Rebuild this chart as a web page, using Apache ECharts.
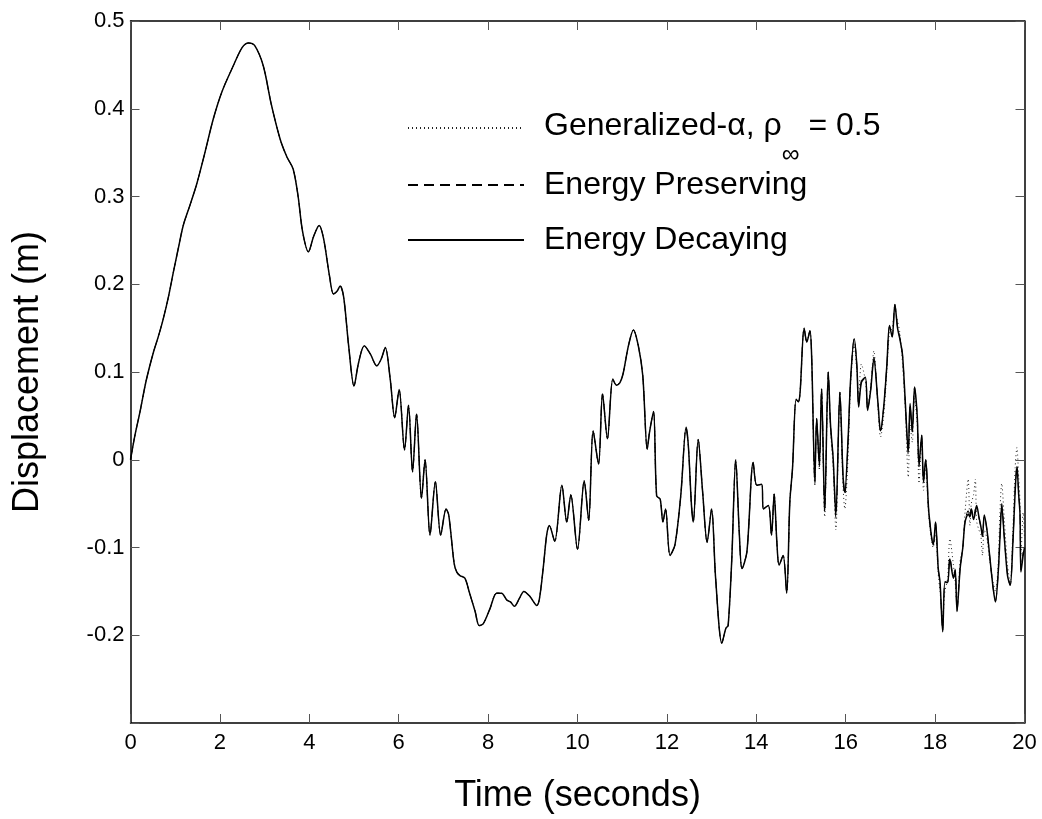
<!DOCTYPE html>
<html>
<head>
<meta charset="utf-8">
<script src="https://cdn.jsdelivr.net/npm/echarts@6/dist/echarts.min.js"></script>
<style>
html,body{margin:0;padding:0;background:#fff;}
#chart{width:1042px;height:819px;}
</style>
</head>
<body>
<div id="chart"></div>
<script>
// ---- data ----
var timeSec = [
0.00,0.10,0.21,0.35,0.51,0.62,0.73,0.85,0.96,1.07,1.18,1.33,1.48,1.65,1.85,2.05,2.30,2.50,2.64,2.78,
2.97,3.15,3.35,3.50,3.64,3.75,3.85,3.98,4.10,4.22,4.32,4.45,4.54,4.62,4.69,4.77,4.88,5.00,5.10,5.23,
5.37,5.51,5.61,5.70,5.81,5.91,6.01,6.13,6.22,6.31,6.40,6.51,6.59,6.70,6.82,6.94,7.06,7.12,7.24,7.30,
7.37,7.48,7.58,7.71,7.80,7.89,8.04,8.19,8.30,8.42,8.50,8.59,8.70,8.80,8.94,9.09,9.15,9.24,9.31,9.37,
9.49,9.65,9.76,9.85,10.00,10.15,10.25,10.35,10.47,10.56,10.67,10.79,10.87,10.95,11.02,11.14,11.25,11.36,11.46,11.56,
11.61,11.70,11.77,11.85,11.91,11.97,12.07,12.18,12.31,12.43,12.48,12.55,12.59,12.70,12.80,12.90,13.00,13.09,13.23,13.32,
13.37,13.45,13.54,13.62,13.68,13.79,13.93,14.01,14.12,14.16,14.27,14.34,14.40,14.46,14.51,14.60,14.68,14.75,14.81,14.89,
14.94,14.98,15.07,15.13,15.20,15.24,15.31,15.35,15.41,15.46,15.53,15.61,15.66,15.72,15.78,15.87,15.94,15.98,16.05,16.11,
16.19,16.25,16.29,16.35,16.44,16.49,16.56,16.63,16.72,16.78,16.85,16.92,16.98,17.04,17.10,17.16,17.21,17.27,17.33,17.40,
17.44,17.49,17.54,17.60,17.64,17.70,17.74,17.79,17.86,17.96,18.01,18.07,18.11,18.17,18.22,18.28,18.33,18.41,18.45,18.49,
18.56,18.62,18.67,18.74,18.78,18.81,18.86,18.90,18.93,18.98,19.02,19.06,19.10,19.16,19.22,19.30,19.35,19.41,19.45,19.49,
19.55,19.62,19.68,19.74,19.79,19.83,19.87,19.90,19.92,19.97,20.00
];

var energyDecaying = [
0.000,0.028,0.054,0.090,0.122,0.140,0.160,0.186,0.214,0.241,0.267,0.290,0.314,0.347,0.388,0.420,0.449,0.470,0.475,0.472,
0.449,0.405,0.365,0.345,0.331,0.300,0.260,0.237,0.255,0.267,0.252,0.210,0.189,0.192,0.198,0.185,0.130,0.084,0.110,0.130,
0.120,0.107,0.115,0.128,0.092,0.048,0.080,0.011,0.062,-0.014,0.052,-0.044,0.000,-0.086,-0.025,-0.086,-0.056,-0.063,-0.118,-0.128,
-0.132,-0.135,-0.151,-0.173,-0.189,-0.187,-0.170,-0.152,-0.152,-0.160,-0.162,-0.167,-0.158,-0.150,-0.156,-0.166,-0.158,-0.120,-0.086,-0.075,
-0.093,-0.029,-0.071,-0.040,-0.102,-0.024,-0.069,0.033,-0.005,0.075,0.024,0.092,0.085,0.088,0.098,0.130,0.148,0.130,0.096,0.012,
0.031,0.055,-0.041,-0.045,-0.071,-0.056,-0.109,-0.097,-0.041,0.037,0.016,-0.052,-0.071,0.023,-0.037,-0.094,-0.056,-0.135,-0.209,-0.192,
-0.189,-0.115,0.000,-0.084,-0.124,-0.105,-0.003,-0.029,-0.028,-0.056,-0.052,-0.086,-0.039,-0.094,-0.120,-0.109,-0.152,-0.048,-0.010,0.069,
0.066,0.077,0.150,0.134,0.147,0.115,-0.025,0.047,-0.006,0.081,-0.058,0.100,0.040,0.001,-0.063,0.077,-0.018,-0.037,0.020,0.092,
0.138,0.107,0.060,0.088,0.094,0.056,0.080,0.115,0.066,0.033,0.060,0.107,0.153,0.140,0.177,0.150,0.138,0.120,0.069,0.009,
0.064,0.032,0.083,0.050,-0.006,0.028,-0.025,0.000,-0.060,-0.097,-0.071,-0.124,-0.139,-0.196,-0.139,-0.140,-0.113,-0.135,-0.125,-0.173,
-0.124,-0.100,-0.071,-0.062,-0.065,-0.056,-0.068,-0.060,-0.052,-0.065,-0.075,-0.086,-0.063,-0.080,-0.109,-0.147,-0.162,-0.130,-0.090,-0.052,
-0.090,-0.132,-0.143,-0.095,-0.037,-0.008,-0.040,-0.063,-0.128,-0.109,-0.100
];

var energyPreserving = [
0.000,0.028,0.054,0.090,0.122,0.140,0.160,0.186,0.214,0.241,0.267,0.290,0.314,0.347,0.388,0.420,0.449,0.470,0.475,0.472,
0.449,0.405,0.365,0.345,0.331,0.300,0.260,0.237,0.255,0.267,0.252,0.210,0.189,0.192,0.198,0.185,0.130,0.084,0.110,0.130,
0.120,0.107,0.115,0.128,0.092,0.048,0.080,0.011,0.062,-0.014,0.052,-0.044,0.000,-0.086,-0.025,-0.086,-0.056,-0.063,-0.118,-0.128,
-0.132,-0.135,-0.151,-0.173,-0.189,-0.187,-0.170,-0.152,-0.152,-0.160,-0.162,-0.167,-0.158,-0.150,-0.156,-0.166,-0.158,-0.120,-0.086,-0.075,
-0.093,-0.029,-0.071,-0.040,-0.102,-0.024,-0.069,0.033,-0.005,0.075,0.024,0.092,0.085,0.088,0.098,0.130,0.148,0.130,0.096,0.012,
0.031,0.055,-0.041,-0.045,-0.071,-0.056,-0.109,-0.097,-0.041,0.037,0.016,-0.052,-0.071,0.023,-0.037,-0.094,-0.056,-0.135,-0.209,-0.192,
-0.189,-0.115,0.000,-0.084,-0.124,-0.105,-0.003,-0.029,-0.028,-0.056,-0.052,-0.086,-0.039,-0.094,-0.120,-0.109,-0.152,-0.048,-0.010,0.069,
0.066,0.077,0.150,0.134,0.147,0.115,-0.027,0.047,-0.008,0.081,-0.060,0.100,0.040,0.000,-0.066,0.077,-0.020,-0.040,0.018,0.092,
0.138,0.107,0.062,0.090,0.094,0.057,0.080,0.117,0.066,0.031,0.060,0.107,0.152,0.140,0.177,0.151,0.139,0.120,0.068,0.006,
0.062,0.032,0.082,0.050,-0.008,0.028,-0.026,0.000,-0.060,-0.097,-0.072,-0.124,-0.140,-0.195,-0.140,-0.140,-0.111,-0.134,-0.126,-0.172,
-0.123,-0.100,-0.070,-0.058,-0.066,-0.056,-0.065,-0.056,-0.054,-0.066,-0.076,-0.088,-0.064,-0.080,-0.109,-0.147,-0.161,-0.130,-0.088,-0.050,
-0.089,-0.131,-0.143,-0.094,-0.035,-0.006,-0.038,-0.062,-0.126,-0.105,-0.099
];

var generalizedAlpha = [
0.000,0.028,0.054,0.090,0.122,0.140,0.160,0.186,0.214,0.241,0.267,0.290,0.314,0.347,0.388,0.420,0.449,0.470,0.475,0.472,
0.449,0.405,0.365,0.345,0.331,0.300,0.260,0.237,0.255,0.267,0.252,0.210,0.189,0.192,0.198,0.185,0.130,0.084,0.110,0.130,
0.120,0.107,0.115,0.128,0.092,0.048,0.080,0.011,0.062,-0.014,0.052,-0.044,0.000,-0.086,-0.025,-0.086,-0.056,-0.063,-0.118,-0.128,
-0.132,-0.135,-0.151,-0.173,-0.189,-0.187,-0.170,-0.152,-0.152,-0.160,-0.162,-0.167,-0.158,-0.150,-0.156,-0.166,-0.158,-0.120,-0.086,-0.075,
-0.093,-0.029,-0.071,-0.040,-0.102,-0.024,-0.069,0.033,-0.005,0.075,0.024,0.092,0.085,0.088,0.098,0.130,0.148,0.130,0.096,0.012,
0.031,0.055,-0.041,-0.045,-0.071,-0.056,-0.109,-0.097,-0.041,0.037,0.016,-0.052,-0.071,0.023,-0.037,-0.094,-0.056,-0.135,-0.209,-0.192,
-0.189,-0.115,0.000,-0.084,-0.124,-0.105,-0.003,-0.029,-0.028,-0.056,-0.052,-0.086,-0.039,-0.094,-0.120,-0.109,-0.152,-0.048,-0.010,0.069,
0.066,0.077,0.150,0.134,0.147,0.115,-0.030,0.045,-0.012,0.078,-0.065,0.090,0.035,-0.010,-0.080,0.070,-0.030,-0.056,0.000,0.085,
0.130,0.100,0.075,0.109,0.090,0.060,0.085,0.124,0.060,0.026,0.050,0.100,0.145,0.150,0.172,0.158,0.145,0.110,0.060,-0.020,
0.040,0.020,0.070,0.040,-0.027,0.020,-0.035,-0.010,-0.065,-0.100,-0.085,-0.130,-0.150,-0.180,-0.150,-0.135,-0.090,-0.120,-0.140,-0.165,
-0.115,-0.100,-0.060,-0.022,-0.075,-0.050,-0.040,-0.022,-0.070,-0.080,-0.085,-0.109,-0.080,-0.090,-0.115,-0.140,-0.150,-0.120,-0.060,-0.027,
-0.070,-0.120,-0.140,-0.080,-0.010,0.014,-0.020,-0.050,-0.110,-0.060,-0.090
];

var xTicks = [0, 2, 4, 6, 8, 10, 12, 14, 16, 18, 20];
var yTickLabels = ['0.5', '0.4', '0.3', '0.2', '0.1', '0', '-0.1', '-0.2'];

var seriesNames = ['Generalized-α, ρ∞ = 0.5', 'Energy Preserving', 'Energy Decaying'];

function pairs(vals) {
  return timeSec.map(function (t, i) { return [t, vals[i]]; });
}

var FONT = '"Liberation Sans", Arial, Helvetica, sans-serif';
var chart = echarts.init(document.getElementById('chart'), null, { renderer: 'canvas' });

var axisLineStyle = { color: '#000', width: 1.5 };
var tickStyle = { color: '#555', width: 1 };

function legendRow(name, top) {
  return {
    orient: 'vertical',
    left: 407,
    top: top,
    padding: 0,
    itemWidth: 116,
    itemHeight: 10,
    selectedMode: false,
    data: [name],
    itemStyle: { opacity: 0 },
    textStyle: { fontFamily: FONT, fontSize: 32, color: '#000', lineHeight: 36, padding: [0, 0, 0, 15],
      rich: {
        a: { fontFamily: FONT, fontSize: 32, color: '#000', lineHeight: 36, verticalAlign: 'top' },
        s: { fontFamily: FONT, fontSize: 25, color: '#000', lineHeight: 18, padding: [33, 0, 0, 0], verticalAlign: 'top' }
      }
    },
    formatter: function (n) {
      if (n === seriesNames[0]) {
        return '{a|Generalized-α, ρ}{s|∞}{a| = 0.5}';
      }
      return n;
    }
  };
}

var option = {
  backgroundColor: '#fff',
  animation: false,
  grid: { left: 130.5, right: 17.5, top: 21, bottom: 94.5, containLabel: false },
  legend: [
    legendRow(seriesNames[0], 110),
    legendRow(seriesNames[1], 167),
    legendRow(seriesNames[2], 222)
  ],
  xAxis: [
    {
      type: 'value', min: 0, max: 20, interval: 2,
      name: 'Time (seconds)', nameLocation: 'middle', nameGap: 55,
      nameTextStyle: { fontFamily: FONT, fontSize: 36, color: '#000' },
      axisLine: { show: true, onZero: false, lineStyle: axisLineStyle },
      axisTick: { show: true, inside: true, length: 9, lineStyle: tickStyle },
      axisLabel: { fontFamily: FONT, fontSize: 22, color: '#000', margin: 9,
        formatter: function (v) { return xTicks.indexOf(Math.round(v)) >= 0 ? String(Math.round(v)) : ''; } },
      splitLine: { show: false }
    },
    {
      type: 'value', min: 0, max: 20, interval: 2, position: 'top',
      axisLine: { show: true, onZero: false, lineStyle: axisLineStyle },
      axisTick: { show: true, inside: true, length: 9, lineStyle: tickStyle },
      axisLabel: { show: false },
      splitLine: { show: false }
    }
  ],
  yAxis: [
    {
      type: 'value', min: -0.3, max: 0.5, interval: 0.1,
      name: 'Displacement (m)', nameLocation: 'middle', nameGap: 84, nameRotate: 90,
      nameTextStyle: { fontFamily: FONT, fontSize: 36, color: '#000' },
      axisLine: { show: true, onZero: false, lineStyle: axisLineStyle },
      axisTick: { show: true, inside: true, length: 9, lineStyle: tickStyle },
      axisLabel: { fontFamily: FONT, fontSize: 22, color: '#000', margin: 6,
        formatter: function (v) {
          var s = (Math.abs(v) < 1e-9) ? '0' : v.toFixed(1);
          return yTickLabels.indexOf(s) >= 0 ? s : '';
        } },
      splitLine: { show: false }
    },
    {
      type: 'value', min: -0.3, max: 0.5, interval: 0.1, position: 'right',
      axisLine: { show: true, onZero: false, lineStyle: axisLineStyle },
      axisTick: { show: true, inside: true, length: 9, lineStyle: tickStyle },
      axisLabel: { show: false },
      splitLine: { show: false }
    }
  ],
  series: [
    {
      name: seriesNames[0], type: 'line', data: pairs(generalizedAlpha),
      showSymbol: false, symbol: 'none', smooth: 0.3, z: 2,
      lineStyle: { color: '#222', width: 1, type: [1, 3] },
      itemStyle: { color: '#222' }
    },
    {
      name: seriesNames[1], type: 'line', data: pairs(energyPreserving),
      showSymbol: false, symbol: 'none', smooth: 0.3, z: 3,
      lineStyle: { color: '#000', width: 1, type: [10, 6] },
      itemStyle: { color: '#000' }
    },
    {
      name: seriesNames[2], type: 'line', data: pairs(energyDecaying),
      showSymbol: false, symbol: 'none', smooth: 0.3, z: 4,
      lineStyle: { color: '#000', width: 1.5, type: 'solid' },
      itemStyle: { color: '#000' }
    }
  ]
};
chart.setOption(option);
</script>
</body>
</html>
